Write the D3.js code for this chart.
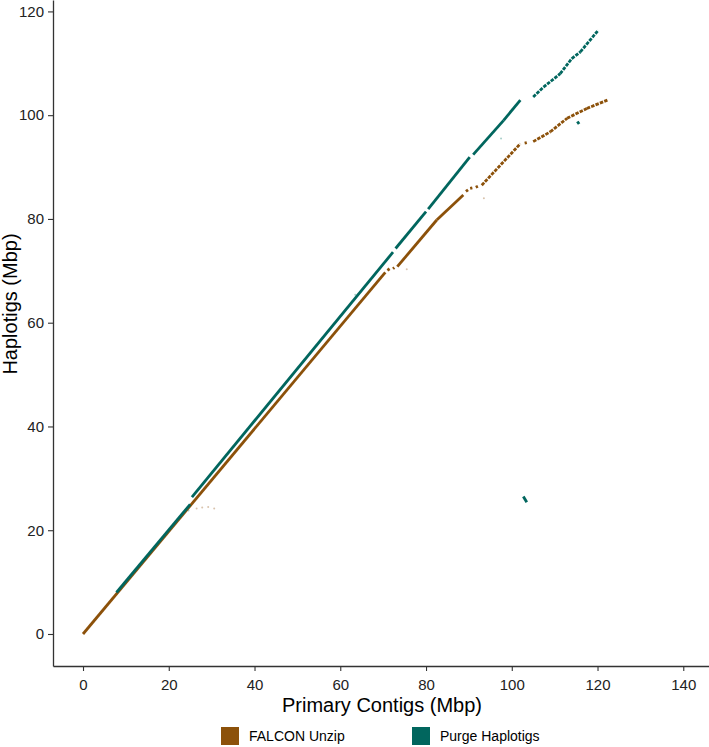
<!DOCTYPE html>
<html>
<head>
<meta charset="utf-8">
<script src="https://cdn.jsdelivr.net/npm/d3@7"></script>
<style>
  body { margin: 0; background: #fff; }
  text { font-family: "Liberation Sans", Arial, sans-serif; }
</style>
</head>
<body>
<div id="dotplot"></div>
<script>
// alignment segments in Mbp: [primary start, haplotig start, primary end, haplotig end]
var unzipSegs = [
  [0, 0, 70.5, 69.7],
  [71.0, 70.1, 71.5, 70.4],
  [72.3, 70.4, 72.6, 70.6],
  [73.3, 70.8, 82.5, 79.8],
  [82.5, 79.8, 88.7, 84.6],
  [89.3, 85.3, 89.8, 85.6],
  [90.3, 85.9, 90.8, 86.0],
  [91.6, 86.1, 92.1, 86.3],
  [93.0, 86.5, 102.0, 94.5],
  [103.0, 94.6, 103.5, 94.7],
  [105.0, 94.9, 109.0, 96.8],
  [109.0, 96.8, 112.9, 99.4],
  [112.9, 99.4, 117.5, 101.3],
  [117.5, 101.3, 122.3, 102.9]
];

var purgeSegs = [
  [7.8, 8.0, 25.0, 25.0],
  [25.4, 26.4, 72.3, 73.6],
  [72.9, 74.3, 80.0, 81.4],
  [80.5, 81.9, 90.2, 91.9],
  [91.0, 92.4, 98.1, 99.0],
  [98.1, 99.0, 102.0, 102.9],
  [105.0, 103.5, 107.4, 105.4],
  [107.4, 105.4, 111.3, 108.0],
  [111.3, 108.0, 114.0, 110.9],
  [114.0, 110.9, 116.0, 112.2],
  [116.0, 112.2, 120.2, 116.4],
  [102.7, 26.5, 103.5, 25.4],
  [115.3, 98.8, 115.7, 98.3]
];

// faint short hits
var unzipNoise = [[26.5, 24.2], [27.8, 24.4], [29.2, 24.5], [30.6, 24.2], [75.5, 70.3], [93.5, 84.0]];
var purgeNoise = [[24.6, 23.8], [63.5, 65.4], [97.5, 95.5], [117.0, 113.5]];

var xTicks = [0, 20, 40, 60, 80, 100, 120, 140];
var yTicks = [0, 20, 40, 60, 80, 100, 120];

var seriesNames = ["FALCON Unzip", "Purge Haplotigs"];
var seriesColors = ["#8c510a", "#01665e"];

var svgWidth = 709;
var svgHeight = 747;

var svg = d3.select("#dotplot")
  .append("svg")
  .attr("width", svgWidth)
  .attr("height", svgHeight);

var xScale = d3.scaleLinear()
  .domain([-7, 146])
  .range([53, 709]);

var yScale = d3.scaleLinear()
  .domain([-6.17, 122.2])
  .range([666, 0]);

// noise dots
svg.append("g").selectAll("circle.un")
  .data(unzipNoise)
  .enter()
  .append("circle")
  .attr("cx", d => xScale(d[0]))
  .attr("cy", d => yScale(d[1]))
  .attr("r", 1)
  .attr("fill", "#d9c3ad");

svg.append("g").selectAll("circle.pn")
  .data(purgeNoise)
  .enter()
  .append("circle")
  .attr("cx", d => xScale(d[0]))
  .attr("cy", d => yScale(d[1]))
  .attr("r", 1)
  .attr("fill", "#a9cfc9");

// segment drawing
function drawSegs(segs, color, dashFrom) {
  svg.append("g").selectAll("line")
    .data(segs)
    .enter()
    .append("line")
    .attr("x1", d => xScale(d[0]))
    .attr("y1", d => yScale(d[1]))
    .attr("x2", d => xScale(d[2]))
    .attr("y2", d => yScale(d[3]))
    .attr("stroke", color)
    .attr("stroke-width", 2.8)
    .attr("stroke-dasharray", d => d[0] >= dashFrom ? "3.5 1.2" : null);
}

drawSegs(unzipSegs, seriesColors[0], 88);
drawSegs(purgeSegs, seriesColors[1], 104);

// axes
var bottomAxis = d3.axisBottom(xScale)
  .tickValues(xTicks)
  .tickSize(5)
  .tickPadding(8)
  .tickSizeOuter(0);

var leftAxis = d3.axisLeft(yScale)
  .tickValues(yTicks)
  .tickSize(5)
  .tickPadding(4)
  .tickSizeOuter(0);

var xAxis = svg.append("g")
  .attr("transform", "translate(0, 666)")
  .call(bottomAxis);

var yAxis = svg.append("g")
  .attr("transform", "translate(53, 0)")
  .call(leftAxis);

[xAxis, yAxis].forEach(function(ax) {
  ax.select(".domain").attr("stroke", "#333").attr("stroke-width", 1.3);
  ax.selectAll(".tick line").attr("stroke", "#333").attr("stroke-width", 1.1);
  ax.selectAll(".tick text")
    .attr("fill", "#222")
    .attr("font-size", "15px")
    .attr("font-family", "Liberation Sans, Arial, sans-serif");
});

// axis titles
svg.append("text")
  .attr("x", 382)
  .attr("y", 712)
  .attr("text-anchor", "middle")
  .attr("font-size", "20px")
  .attr("fill", "#000")
  .text("Primary Contigs (Mbp)");

svg.append("text")
  .attr("transform", "rotate(-90)")
  .attr("x", -304)
  .attr("y", 17)
  .attr("text-anchor", "middle")
  .attr("font-size", "20px")
  .attr("fill", "#000")
  .text("Haplotigs (Mbp)");

// legend
var legendX = [221, 412];
var legend = svg.append("g").selectAll("g")
  .data(seriesNames)
  .enter()
  .append("g")
  .attr("transform", (d, i) => `translate(${legendX[i]}, 727)`);

legend.append("rect")
  .attr("width", 18)
  .attr("height", 18)
  .attr("fill", (d, i) => seriesColors[i]);

legend.append("text")
  .attr("x", 28)
  .attr("y", 14)
  .attr("font-size", "14px")
  .attr("fill", "#000")
  .text(d => d);
</script>
</body>
</html>
